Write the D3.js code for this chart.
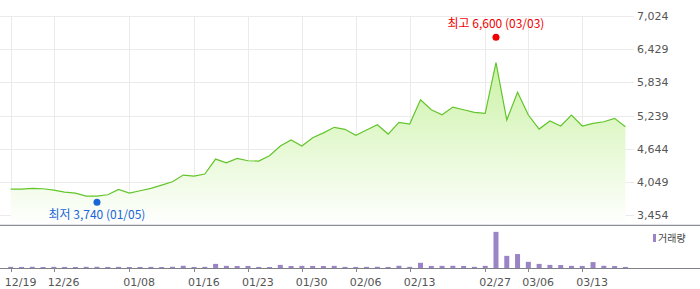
<!DOCTYPE html>
<html><head><meta charset="utf-8">
<script src="https://cdn.jsdelivr.net/npm/d3@7"></script>
<style>
html,body{margin:0;padding:0;background:#fff;}
svg{display:block;}
</style></head>
<body>
<svg id="c" width="700" height="289"></svg>
<script>
// ---- data ----
const closePrices = [3924,3924,3936,3930,3906,3870,3852,3798,3798,3822,
  3918,3852,3894,3936,3995,4055,4175,4157,4193,4461,
  4395,4474,4431,4425,4521,4694,4802,4694,4843,4930,
  5030,4994,4886,4981,5077,4909,5119,5089,5524,5345,
  5255,5393,5345,5298,5280,6187,5160,5657,5250,4999,
  5142,5053,5250,5053,5101,5130,5190,5040];
const volumes = [14,13,15,12,14,13,12,14,15,13,
  14,12,13,14,12,15,27,13,14,50,
  26,24,25,13,12,38,24,26,25,24,
  26,14,13,14,15,13,27,14,63,25,
  26,27,25,14,26,440,148,170,75,50,
  38,36,26,25,72,27,24,13];
const tickIndex = [0,4,11,17,22,27,32,37,44,48,53];
const tickLabels = ["12/19","12/26","01/08","01/16","01/23","01/30","02/06","02/13","02/27","03/06","03/13"];
const yTicks = [3454,4049,4644,5239,5834,6429,7024];
const highPoint = {index:45, value:6600, label:"최고 6,600 (03/03)"};
const lowPoint = {index:8, value:3740, label:"최저 3,740 (01/05)"};
const volumeLegend = "거래량";

// ---- layout ----
const W = 700, H = 289;
const plotTop = 16, plotBottom = 215.3, sepY = 225.3, volBase = 268;
const xLeft = 10.7, xRight = 625.4, gridRight = 634;
const svg = d3.select("#c");

const x = d3.scalePoint().domain(d3.range(closePrices.length)).range([xLeft, xRight]);
const y = d3.scaleLinear().domain([yTicks[0], yTicks[yTicks.length-1]]).range([plotBottom, plotTop]);
const yv = d3.scaleLinear().domain([0, 520]).range([volBase, sepY]);

const numFont = "'DejaVu Sans', sans-serif";
const krFont = "'Noto Sans CJK KR', 'Noto Sans', sans-serif";

// gradient
const defs = svg.append("defs");
const grad = defs.append("linearGradient").attr("id","g").attr("gradientUnits","userSpaceOnUse")
  .attr("x1",0).attr("x2",0).attr("y1",plotTop).attr("y2",sepY);
grad.append("stop").attr("offset","0%").attr("stop-color","#bcee8c");
grad.append("stop").attr("offset","100%").attr("stop-color","#ffffff");

// horizontal grid
svg.append("g").selectAll("line").data(yTicks).join("line")
  .attr("x1",0).attr("x2",gridRight)
  .attr("y1",d=>Math.round(y(d))+0.5).attr("y2",d=>Math.round(y(d))+0.5)
  .attr("stroke","#ebebeb").attr("stroke-width",1);
// vertical grid
svg.append("g").selectAll("line").data(tickIndex).join("line")
  .attr("x1",d=>Math.round(x(d))+0.5).attr("x2",d=>Math.round(x(d))+0.5)
  .attr("y1",plotTop).attr("y2",sepY)
  .attr("stroke","#ebebeb").attr("stroke-width",1);

// area
const area = d3.area().x((d,i)=>x(i)).y0(sepY).y1(d=>y(d));
svg.append("path").datum(closePrices).attr("d",area).attr("fill","url(#g)");
const line = d3.line().x((d,i)=>x(i)).y(d=>y(d));
svg.append("path").datum(closePrices).attr("d",line)
  .attr("fill","none").attr("stroke","#62c52a").attr("stroke-width",1.2);

// y labels
svg.append("g").selectAll("text").data(yTicks).join("text")
  .attr("x",637).attr("y",d=>y(d)+4)
  .attr("font-family",numFont).attr("font-size",11).attr("fill","#555")
  .text(d=>d3.format(",")(d));

// separator
svg.append("line").attr("x1",0).attr("x2",W).attr("y1",sepY).attr("y2",sepY)
  .attr("stroke","#70757c").attr("stroke-width",1);

// volume bars
svg.append("g").selectAll("rect").data(volumes).join("rect")
  .attr("x",(d,i)=>x(i)-2.5).attr("width",5)
  .attr("y",d=>yv(d)).attr("height",d=>volBase-yv(d))
  .attr("fill","#9b84c6");

// volume baseline
svg.append("line").attr("x1",0).attr("x2",W).attr("y1",volBase+0.5).attr("y2",volBase+0.5)
  .attr("stroke","#7d8086").attr("stroke-width",1);
// x ticks
svg.append("g").selectAll("line").data(tickIndex).join("line")
  .attr("x1",d=>Math.round(x(d))+0.5).attr("x2",d=>Math.round(x(d))+0.5)
  .attr("y1",volBase).attr("y2",volBase+4)
  .attr("stroke","#888");
svg.append("g").selectAll("text").data(tickIndex).join("text")
  .attr("x",d=>x(d)-6).attr("y",286)
  .attr("font-family",numFont).attr("font-size",11).attr("fill","#555")
  .text((d,i)=>tickLabels[i]);

// legend
svg.append("rect").attr("x",653).attr("y",234).attr("width",3).attr("height",8).attr("fill","#9b84c6");
svg.append("text").attr("x",658).attr("y",242).attr("font-family",krFont).attr("font-size",10)
  .attr("fill","#444").text(volumeLegend);

// high / low markers
svg.append("circle").attr("cx",x(highPoint.index)).attr("cy",y(highPoint.value)-2.5).attr("r",3.5).attr("fill","#f20000");
svg.append("text").attr("x",x(highPoint.index)).attr("y",28).attr("text-anchor","middle")
  .attr("font-family",krFont).attr("font-size",12).attr("fill","#f20000").text(highPoint.label);
svg.append("circle").attr("cx",x(lowPoint.index)).attr("cy",y(lowPoint.value)+3).attr("r",3.5).attr("fill","#1a66d6");
svg.append("text").attr("x",x(lowPoint.index)).attr("y",219).attr("text-anchor","middle")
  .attr("font-family",krFont).attr("font-size",12).attr("fill","#1a66d6").text(lowPoint.label);
</script>
</body></html>
